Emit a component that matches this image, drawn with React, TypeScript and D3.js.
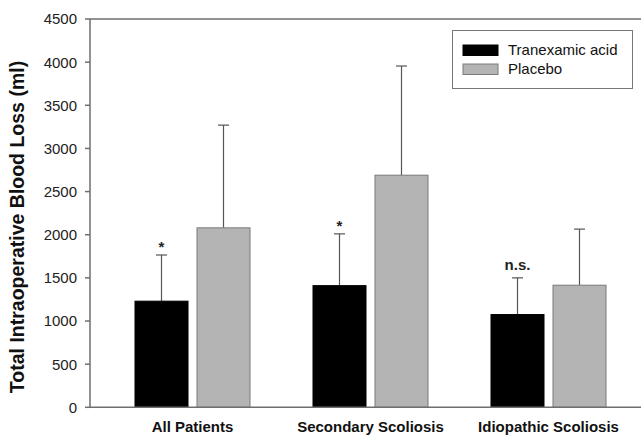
import React from "react";
import * as d3 from "d3";

// groups on x axis
const groups = ["All Patients", "Secondary Scoliosis", "Idiopathic Scoliosis"];
const series = ["Tranexamic acid", "Placebo"];
const seriesColors = ["#000000", "#b4b4b4"];
const seriesStroke = ["#000000", "#7a7a7a"];

// mean blood loss (ml)
const tranexamicMeans = [1230, 1410, 1075];
const placeboMeans = [2080, 2690, 1415];
// mean + sd (top of error bar)
const tranexamicErrTop = [1765, 2010, 1500];
const placeboErrTop = [3270, 3955, 2065];

// significance marks above tranexamic bars
const sigLabels = ["*", "*", "n.s."];

const yTicks = [0, 500, 1000, 1500, 2000, 2500, 3000, 3500, 4000, 4500];

const width = 641;
const height = 435;
const axisX = 90;
const plotTop = 19;
const plotBottom = 407.3;
const axisColor = "#6e6e6e";
const font = "Arial, 'Liberation Sans', Helvetica, sans-serif";

const App = () => {
  const y = d3.scaleLinear().domain([0, 4500]).range([plotBottom, plotTop]);
  const x = d3.scaleBand().domain(groups).range([103.5, 637.5]).padding(0);
  const xInner = d3
    .scaleBand()
    .domain(series)
    .range([0, x.bandwidth()])
    .paddingInner(0.145)
    .paddingOuter(0.508);

  const means = [tranexamicMeans, placeboMeans];
  const errTops = [tranexamicErrTop, placeboErrTop];

  return (
    <svg
      width={width}
      height={height}
      style={{ position: "absolute", left: 0, top: 0, background: "#fff" }}
      fontFamily={font}
    >
      {/* bars + error bars */}
      {groups.map((g, gi) => (
        <g key={g} transform={`translate(${x(g)},0)`}>
          {series.map((s, si) => {
            const bx = xInner(s) as number;
            const bw = xInner.bandwidth();
            const cx = bx + bw / 2;
            const top = y(means[si][gi]);
            const et = y(errTops[si][gi]);
            return (
              <g key={s}>
                <line x1={cx} x2={cx} y1={top} y2={et} stroke="#555" strokeWidth={1.2} />
                <line x1={cx - 5.5} x2={cx + 5.5} y1={et} y2={et} stroke="#555" strokeWidth={1.2} />
                <rect
                  x={bx}
                  y={top}
                  width={bw}
                  height={plotBottom - top}
                  fill={seriesColors[si]}
                  stroke={seriesStroke[si]}
                  strokeWidth={1}
                />
              </g>
            );
          })}
          <text
            x={(xInner(series[0]) as number) + xInner.bandwidth() / 2}
            y={y(tranexamicErrTop[gi]) - (sigLabels[gi] === "*" ? 3 : 8)}
            textAnchor="middle"
            fontWeight="bold"
            fontSize={15}
            fill="#222"
          >
            {sigLabels[gi]}
          </text>
          <text
            x={x.bandwidth() / 2}
            y={432}
            textAnchor="middle"
            fontWeight="bold"
            fontSize={15}
            fill="#111"
          >
            {g}
          </text>
        </g>
      ))}

      {/* axes frame */}
      <line x1={axisX} x2={width} y1={plotTop} y2={plotTop} stroke={axisColor} strokeWidth={1.5} />
      <line x1={axisX} x2={width} y1={plotBottom} y2={plotBottom} stroke={axisColor} strokeWidth={1.5} />
      <line x1={axisX} x2={axisX} y1={plotTop} y2={plotBottom} stroke={axisColor} strokeWidth={1.5} />

      {yTicks.map((t) => (
        <g key={t} transform={`translate(0,${y(t)})`}>
          <line x1={axisX - 5} x2={axisX} stroke={axisColor} strokeWidth={1.5} />
          <text x={77} dy="0.36em" textAnchor="end" fontSize={15} fill="#222">
            {t}
          </text>
        </g>
      ))}

      <text
        transform={`translate(24,227) rotate(-90)`}
        textAnchor="middle"
        fontWeight="bold"
        fontSize={19.5}
        fill="#111"
      >
        Total Intraoperative Blood Loss (ml)
      </text>

      {/* legend */}
      <g>
        <rect x={452.5} y={30.5} width={180} height={58} fill="#fff" stroke="#777" strokeWidth={1} />
        {series.map((s, si) => (
          <g key={s} transform={`translate(0,${si * 19})`}>
            <rect
              x={463}
              y={45}
              width={35}
              height={10.5}
              fill={seriesColors[si]}
              stroke={seriesStroke[si]}
              strokeWidth={1}
            />
            <text x={508} y={55} fontSize={15} fill="#111">
              {s}
            </text>
          </g>
        ))}
      </g>
    </svg>
  );
};

export default App;
